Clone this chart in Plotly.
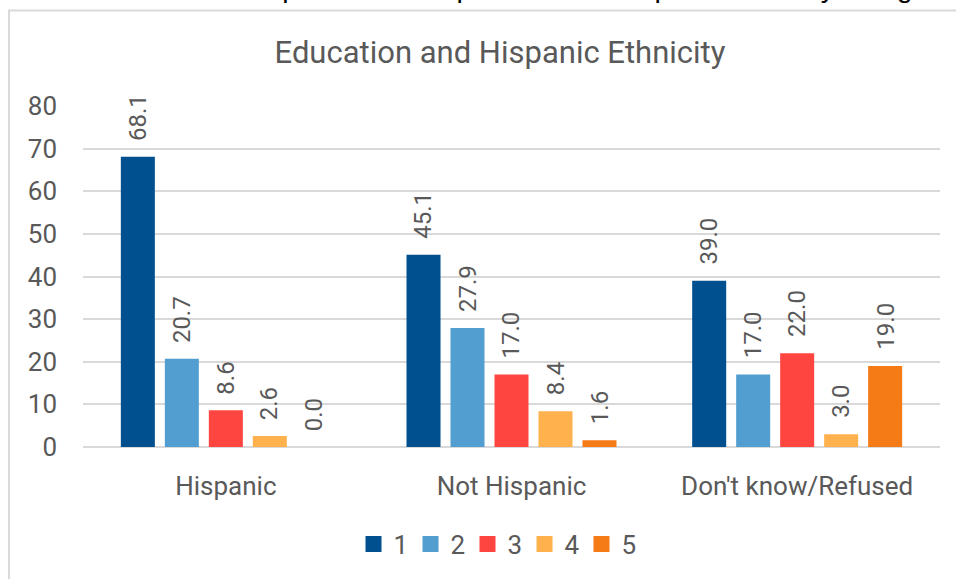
import plotly.graph_objects as go

# Education level shares (%) by Hispanic ethnicity
categories = ["Hispanic", "Not Hispanic", "Don't know/Refused"]
levels = ["1", "2", "3", "4", "5"]
level_1 = [68.1, 45.1, 39.0]
level_2 = [20.7, 27.9, 17.0]
level_3 = [8.6, 17.0, 22.0]
level_4 = [2.6, 8.4, 3.0]
level_5 = [0.0, 1.6, 19.0]
series = [level_1, level_2, level_3, level_4, level_5]
colors = ["#00508F", "#529ED0", "#FF4540", "#FFB14E", "#F57B16"]

y_ticks = [0, 10, 20, 30, 40, 50, 60, 70, 80]

TEXT = "#595959"
GRID = "#D9D9D9"
FONT = "Roboto"

BARGAP = 0.23
BARGROUPGAP = 0.227

fig = go.Figure()

for name, vals, col in zip(levels, series, colors):
    fig.add_trace(go.Bar(
        x=categories, y=vals, name=name, marker=dict(color=col, line=dict(width=0)),
        showlegend=False, hoverinfo="x+y+name",
    ))
    # legend entry with a larger square swatch
    fig.add_trace(go.Scatter(
        x=[None], y=[None], mode="markers", name=name,
        marker=dict(symbol="square", size=16, color=col, line=dict(width=0)),
        hoverinfo="skip",
    ))

# rotated value labels above each bar
n = len(series)
slot = (1 - BARGAP) / n
annotations = []
for i, vals in enumerate(series):
    offset = (i - (n - 1) / 2) * slot
    for j, v in enumerate(vals):
        annotations.append(dict(
            x=j + offset, y=v, xref="x", yref="y",
            text=f"{v:.1f}", textangle=-90, showarrow=False,
            xanchor="center", yanchor="bottom", yshift=14,
            font=dict(family=FONT, size=24, color=TEXT),
        ))

# plot area: x 83..940 px, y 106..447 px
L, R, T, B = 83, 16, 106, 132
W, H = 956, 579
pw, ph = W - L - R, H - T - B


def px_x(px):
    return (px - L) / pw


def px_y(py):
    return (H - B - py) / ph


# caption line that sits above the chart box
annotations.append(dict(
    x=px_x(98), y=px_y(-13), xref="paper", yref="paper",
    text="Below are the percent of respondents of Hispanic ethnicity categories by education level",
    showarrow=False, xanchor="left", yanchor="middle",
    font=dict(family="Liberation Sans", size=28.5, color="#000000"),
))

fig.update_layout(
    width=W, height=H,
    margin=dict(l=L, r=R, t=T, b=B, autoexpand=False),
    paper_bgcolor="white", plot_bgcolor="white",
    barmode="group", bargap=BARGAP, bargroupgap=BARGROUPGAP,
    title=dict(
        text="Education and Hispanic Ethnicity",
        x=500 / W, xanchor="center", y=1 - 52 / H, yanchor="middle",
        xref="container", yref="container",
        font=dict(family=FONT, size=31, color=TEXT),
    ),
    font=dict(family=FONT, color=TEXT),
    xaxis=dict(
        type="category", categoryorder="array", categoryarray=categories,
        showgrid=False, showline=False, zeroline=False, ticks="",
        tickfont=dict(family=FONT, size=26, color=TEXT),
        ticklabelstandoff=21,
    ),
    yaxis=dict(
        range=[0, 80], tickmode="array", tickvals=y_ticks,
        showgrid=True, gridcolor=GRID, gridwidth=1.5,
        zeroline=True, zerolinecolor=GRID, zerolinewidth=1.5,
        showline=False, ticks="",
        tickfont=dict(family=FONT, size=26, color=TEXT),
        ticklabelstandoff=25,
    ),
    legend=dict(
        orientation="h", x=px_x(496), xanchor="center", y=px_y(544), yanchor="middle",
        font=dict(family=FONT, size=26, color=TEXT),
        itemsizing="trace", entrywidth=12, entrywidthmode="pixels",
        bgcolor="rgba(0,0,0,0)",
    ),
    annotations=annotations,
    shapes=[dict(
        type="rect", xref="paper", yref="paper",
        x0=px_x(9), x1=px_x(975), y0=px_y(600), y1=px_y(10.5),
        line=dict(color=GRID, width=2), fillcolor="rgba(0,0,0,0)", layer="below",
    )],
)

fig.write_html("out.html")
